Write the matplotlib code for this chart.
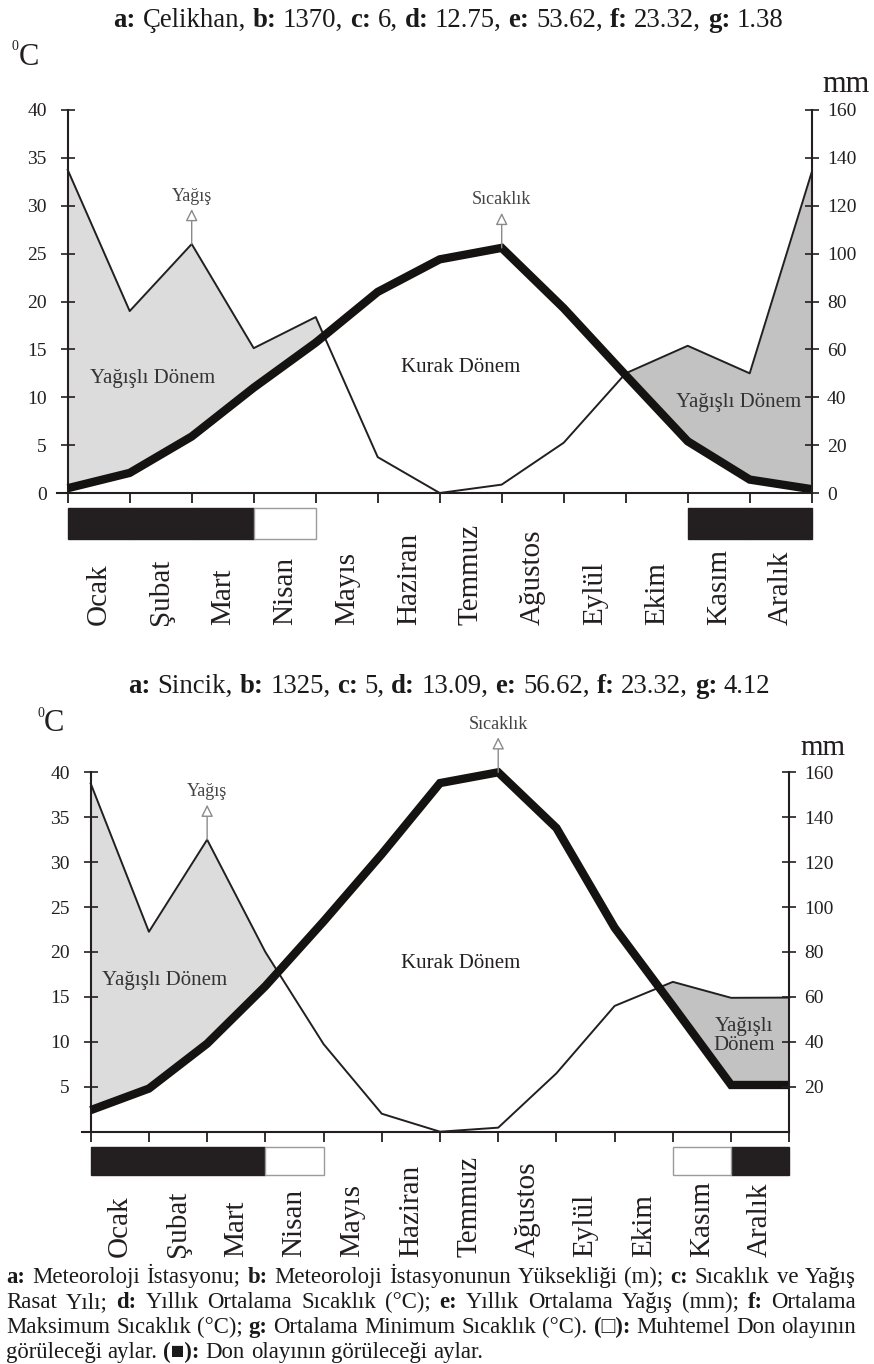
import matplotlib
matplotlib.use('Agg')
import matplotlib.pyplot as plt
import matplotlib.transforms as mtransforms
import numpy as np

W, H = 874, 1364
INK = '#231f20'
plt.rcParams['font.family'] = ['Liberation Serif', 'DejaVu Serif', 'DejaVu Sans']

months = ['Ocak', 'Şubat', 'Mart', 'Nisan', 'Mayıs', 'Haziran',
          'Temmuz', 'Ağustos', 'Eylül', 'Ekim', 'Kasım', 'Aralık']
keys = ['a', 'b', 'c', 'd', 'e', 'f', 'g']

# Çelikhan: values at the 13 month ticks (°C and mm)
cel_info = ['Çelikhan', '1370', '6', '12.75', '53.62', '23.32', '1.38']
cel_temp = [0.5, 2.1, 5.9, 11.0, 15.7, 21.0, 24.4, 25.6, 19.3, 12.3, 5.4, 1.4, 0.4]
cel_rain = [135, 76, 104, 60.5, 73.5, 15, 0, 3.5, 21, 50, 61.5, 50, 134]
# 2 = don olayı (siyah), 1 = muhtemel don (beyaz), 0 = yok
cel_frost = [2, 2, 2, 1, 0, 0, 0, 0, 0, 0, 2, 2]

# Sincik
sin_info = ['Sincik', '1325', '5', '13.09', '56.62', '23.32', '4.12']
sin_temp = [2.4, 4.8, 9.8, 16.2, 23.4, 30.9, 38.8, 40.0, 33.8, 22.7, 14.0, 5.2, 5.2]
sin_rain = [155, 89, 130, 80, 39, 8, 0, 1.8, 26, 56, 66.7, 59.6, 59.7]
sin_frost = [2, 2, 2, 1, 0, 0, 0, 0, 0, 0, 1, 2]

notes = [
    'a: Meteoroloji İstasyonu; b: Meteoroloji İstasyonunun Yüksekliği (m); c: Sıcaklık ve Yağış',
    'Rasat Yılı; d: Yıllık Ortalama Sıcaklık (°C); e: Yıllık Ortalama Yağış (mm); f: Ortalama',
    'Maksimum Sıcaklık (°C); g: Ortalama Minimum Sıcaklık (°C). (□): Muhtemel Don olayının',
    'görüleceği aylar. (■): Don olayının görüleceği aylar.',
]
bold_words = {'a:', 'b:', 'c:', 'd:', 'e:', 'f:', 'g:', '(□):', '(■):'}

RATIO = 4.0  # 160 mm <-> 40 °C
pos = np.arange(13)

fig = plt.figure(figsize=(W / 100, H / 100), dpi=100)
renderer = fig.canvas.get_renderer()


def fx(x, y):
    return x / W, 1 - y / H


def rect(x0, y0, x1, y1):
    return [x0 / W, 1 - y1 / H, (x1 - x0) / W, (y1 - y0) / H]


def measure(s, size, bold=False):
    t = fig.text(0, 0, s, fontsize=size, fontweight='bold' if bold else 'normal')
    w = t.get_window_extent(renderer).width
    t.remove()
    return w


def words_line(words, x, y, size, ha='left', width=None):
    ws = [measure(w, size, b) for w, b in words]
    gap = measure('n n', size) - measure('nn', size)
    if width is not None and len(words) > 1:
        gap = (width - sum(ws)) / (len(words) - 1)
    total = sum(ws) + gap * (len(words) - 1)
    cx = x - total / 2 if ha == 'center' else x
    for (w, b), wd in zip(words, ws):
        fig.text(*fx(cx, y), w, fontsize=size, fontweight='bold' if b else 'normal',
                 ha='left', va='baseline', color='#1a1a1a')
        cx += wd + gap


def title_words(info):
    out = []
    for i, (k, v) in enumerate(zip(keys, info)):
        out.append((k + ':', True))
        out.append((v + (',' if i < len(info) - 1 else ''), False))
    return out


def station(temp, rain, frost, box, ext, bar_y, label_y, yt, yt2):
    x0, x1, top, bot = box
    ppm = (x1 - x0) / 12
    left = x0 - ext * ppm
    ax = fig.add_axes(rect(left, top, x1, bot))
    ax.patch.set_visible(False)
    ax.set_xlim(-ext, 12)
    ax.set_ylim(0, 40)
    ax.spines[['top', 'right']].set_visible(False)
    ax.spines['left'].set_position(('data', 0))
    for s in ['left', 'bottom']:
        ax.spines[s].set_linewidth(1.5)
        ax.spines[s].set_color(INK)

    t = np.array(temp, dtype=float)
    r = np.array(rain, dtype=float) / RATIO
    ax.fill_between(pos, t, r, where=(r >= t) & (pos <= 6), interpolate=True,
                    color='#dcdcdc', lw=0, zorder=1)
    ax.fill_between(pos, t, r, where=(r >= t) & (pos >= 6), interpolate=True,
                    color='#c2c2c2', lw=0, zorder=1)
    ax.plot(pos, r, color=INK, lw=1.4, zorder=3, clip_on=False)
    ax.plot(pos, t, color='#151212', lw=6, zorder=4, clip_on=False,
            solid_joinstyle='miter', solid_capstyle='butt')

    ax.set_xticks(pos)
    ax.tick_params(axis='x', direction='out', length=7, width=1.3,
                   labelbottom=False, color=INK)
    ax.set_yticks(yt)
    ax.tick_params(axis='y', direction='inout', length=10, width=1.2,
                   labelsize=14, pad=10, colors=INK)

    tw = ax.twinx()
    tw.set_ylim(0, 160)
    tw.set_yticks(yt2)
    for s in ['left', 'top', 'bottom']:
        tw.spines[s].set_visible(False)
    tw.spines['right'].set_linewidth(1.5)
    tw.spines['right'].set_color(INK)
    tw.tick_params(axis='y', direction='inout', length=10, width=1.2,
                   labelsize=14, pad=6, colors=INK)

    # arrows: Yağış (rain peak in Mart), Sıcaklık (temperature peak)
    for xi, yv, lab in [(2, r[2], 'Yağış'), (int(np.argmax(t)), t.max(), 'Sıcaklık')]:
        ax.annotate('', xy=(xi, yv), xytext=(0, 35), textcoords='offset pixels',
                    arrowprops=dict(arrowstyle='<|-,head_length=0.6,head_width=0.3',
                                    fc='white', ec='#8a8a8a', lw=1.0,
                                    shrinkA=0, shrinkB=0, mutation_scale=12),
                    zorder=5, annotation_clip=False)
        ax.annotate(lab, xy=(xi, yv), xytext=(0, 48), textcoords='offset pixels',
                    ha='center', va='center', fontsize=13, color='#444444',
                    annotation_clip=False)

    # frost bar
    bx = fig.add_axes(rect(left, bar_y[0], x1, bar_y[1]))
    bx.set_xlim(-ext, 12)
    bx.set_ylim(0, 1)
    bx.axis('off')
    fr = np.array(frost)
    idx = np.arange(12)
    bx.bar(idx[fr == 2], 1, width=1, align='edge', color=INK, ec=INK, lw=1, clip_on=False)
    bx.bar(idx[fr == 1], 1, width=1, align='edge', color='white', ec='#9a9a9a', lw=1,
           clip_on=False)

    tr = mtransforms.blended_transform_factory(ax.transData, fig.transFigure)
    for i, m in enumerate(months):
        ax.text(i + 0.5, 1 - label_y / H, m, transform=tr, rotation=90,
                rotation_mode='anchor', ha='left', va='center', fontsize=21, color=INK)
    return ax


# title size fitted to the reference width
title_size = 16 * 671 / sum(
    [measure(w, 16, b) for w, b in title_words(cel_info)]
    + [(measure('n n', 16) - measure('nn', 16)) * 13])

# ---- Çelikhan ----
words_line(title_words(cel_info), 448.5, 27, title_size, ha='center')
station(cel_temp, cel_rain, cel_frost, (67.7, 811.7, 110, 493), 0.18,
        (508, 539), 625, list(range(0, 41, 5)), list(range(0, 161, 20)))
fig.text(*fx(12, 50), '0', fontsize=10, color=INK, va='baseline')
fig.text(*fx(19, 65), 'C', fontsize=22, color=INK, va='baseline')
fig.text(*fx(822, 92), 'mm', fontsize=22, color=INK, va='baseline')
fig.text(*fx(152.5, 378), 'Yağışlı Dönem', fontsize=15, color='#333333', ha='center', va='center')
fig.text(*fx(461, 367), 'Kurak Dönem', fontsize=15, color=INK, ha='center', va='center')
fig.text(*fx(738.7, 402), 'Yağışlı Dönem', fontsize=15, color='#333333', ha='center', va='center')

# ---- Sincik ----
words_line(title_words(sin_info), 449.5, 693, title_size, ha='center')
station(sin_temp, sin_rain, sin_frost, (90.7, 789.3, 772.3, 1131.7), 0.155,
        (1146.7, 1175), 1257, list(range(5, 41, 5)), list(range(20, 161, 20)))
fig.text(*fx(37, 717), '0', fontsize=10, color=INK, va='baseline')
fig.text(*fx(44, 731), 'C', fontsize=22, color=INK, va='baseline')
fig.text(*fx(800, 755), 'mm', fontsize=21, color=INK, va='baseline')
fig.text(*fx(164.5, 980), 'Yağışlı Dönem', fontsize=15, color='#333333', ha='center', va='center')
fig.text(*fx(460.5, 963), 'Kurak Dönem', fontsize=15, color=INK, ha='center', va='center')
fig.text(*fx(744, 1036), 'Yağışlı\nDönem', fontsize=15, color='#333333', ha='center',
         va='center', linespacing=1.0)

# ---- footer ----
note_words = [[(w, w in bold_words) for w in line.split()] for line in notes]
nat = sum(measure(w, 14, b) for w, b in note_words[0]) \
    + (measure('n n', 14) - measure('nn', 14)) * (len(note_words[0]) - 1)
note_size = 14 * 840 / nat
for k, (line, yb) in enumerate(zip(note_words, [1283, 1308, 1333, 1358])):
    words_line(line, 6, yb, note_size, width=850 if k < 3 else None)

fig.savefig('out.png', dpi=100)
